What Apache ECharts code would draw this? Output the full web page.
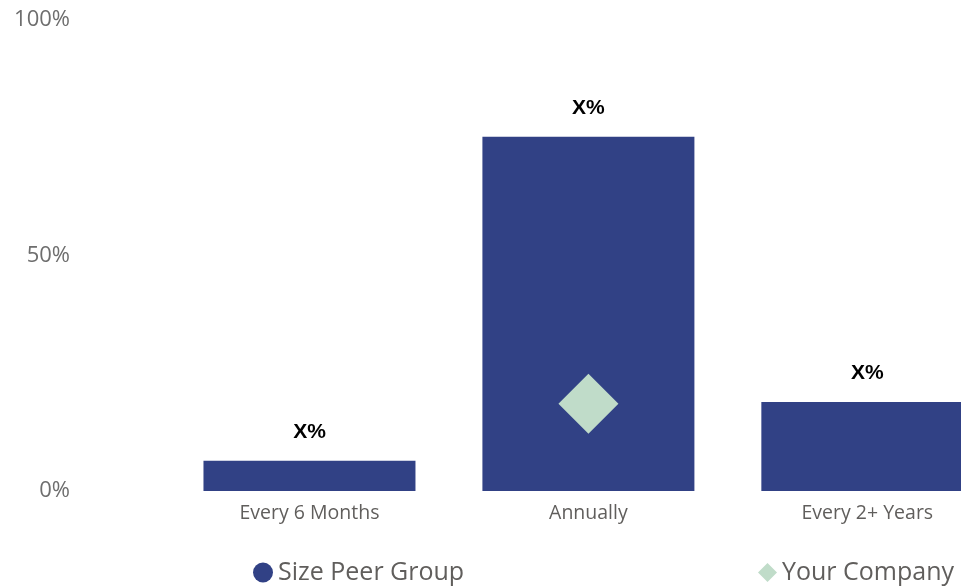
<!DOCTYPE html>
<html>
<head>
<meta charset="utf-8">
<script src="https://cdn.jsdelivr.net/npm/echarts@6/dist/echarts.min.js"></script>
<style>html,body{margin:0;padding:0;background:#fff;}#c{width:961px;height:587px;}</style>
</head>
<body>
<div id="c"></div>
<script>
const categories = ['Every 6 Months', 'Annually', 'Every 2+ Years'];
const peerValues = [6.4, 75.2, 18.9];
const companyValues = [null, 18.5, null];
const peerLabels = ['X%', 'X%', 'X%'];
const yTicks = [0, 50, 100];

const FONT = '"Open Sans", "Noto Sans", sans-serif';
// layout: each category slot is 280px wide; the last slot runs past the right edge (clipped)
const GRID_LEFT = 170, SLOT = 280, CHART_W = 961;
const xMax = -0.5 + (CHART_W - GRID_LEFT) / SLOT;

const peerData = peerValues.map((v, i) => [i, v]);
const companyData = companyValues.map((v, i) => [i, v]).filter(d => d[1] != null);

const chart = echarts.init(document.getElementById('c'));
chart.setOption({
  animation: false,
  grid: { left: GRID_LEFT, right: 0, top: 20, bottom: 96, containLabel: false },
  legend: [
    { left: 248, top: 555, itemWidth: 20, itemHeight: 20, itemGap: 6,
      data: [{ name: 'Size Peer Group', icon: 'circle' }],
      textStyle: { fontFamily: FONT, fontSize: 25, color: '#605e5c' } },
    { left: 753, top: 555, itemWidth: 19, itemHeight: 19, itemGap: 6,
      data: [{ name: 'Your Company', icon: 'diamond' }],
      textStyle: { fontFamily: FONT, fontSize: 25, color: '#605e5c' } }
  ],
  xAxis: {
    type: 'value', min: -0.5, max: xMax, interval: 0.5,
    splitLine: { show: false }, axisLine: { show: false }, axisTick: { show: false },
    axisLabel: { fontFamily: FONT, fontSize: 19.5, color: '#605e5c', margin: 12,
      showMinLabel: true, showMaxLabel: true,
      formatter: v => (Number.isInteger(v) && categories[v] !== undefined) ? categories[v] : '' }
  },
  yAxis: {
    type: 'value', min: 0, max: 100, interval: 50,
    splitLine: { show: false }, axisLine: { show: false }, axisTick: { show: false },
    axisLabel: { fontFamily: FONT, fontSize: 22, color: '#6e6e6e', margin: 100,
      padding: [4, 0, 0, 0],
      formatter: v => yTicks.includes(v) ? v + '%' : '' }
  },
  series: [
    { name: 'Size Peer Group', type: 'bar', data: peerData, barWidth: 212, clip: true,
      itemStyle: { color: '#314185' },
      label: { show: true, position: 'top', distance: 18,
        formatter: p => peerLabels[p.dataIndex],
        fontFamily: 'Arial, "Liberation Sans", sans-serif', fontWeight: 'bold', fontSize: 21, color: '#000' } },
    { name: 'Your Company', type: 'scatter', data: companyData, symbol: 'diamond',
      symbolSize: 60, itemStyle: { color: '#c0dcc9', opacity: 1 }, z: 5 }
  ]
});
</script>
</body>
</html>
